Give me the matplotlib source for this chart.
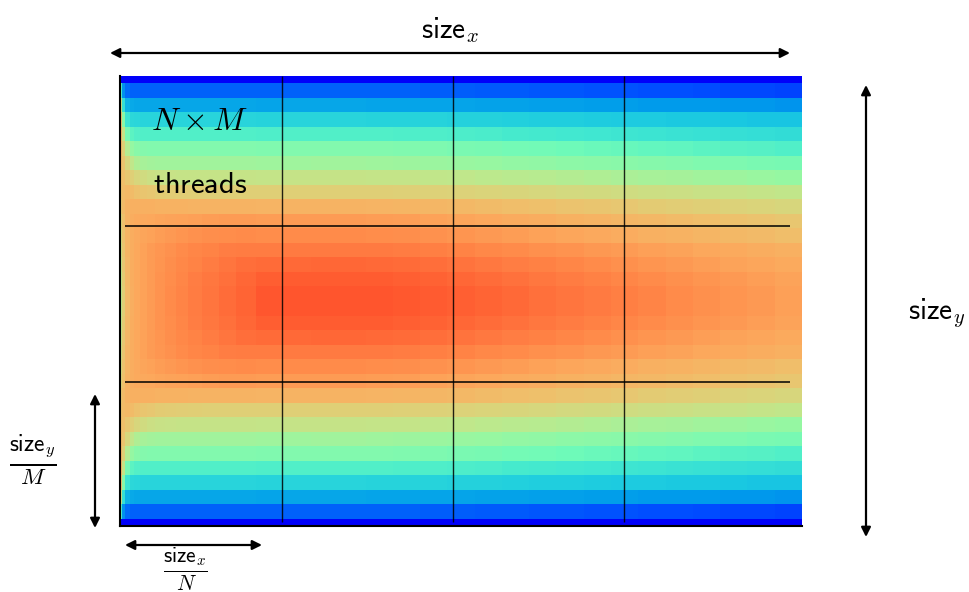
import numpy as np
import matplotlib
matplotlib.use("Agg")
from matplotlib import pyplot as plt
from matplotlib.colors import LinearSegmentedColormap

plt.rcParams['mathtext.fontset'] = 'cm'

#==============DATA==============
# entrance region: column edges (fraction of size_x) and values per row
# row 0 = top wall, only the upper half is listed, the lower half is mirrored
inlet_edges = [0, 0.003, 0.008, 0.014, 0.021, 0.03, 0.04, 0.052, 0.066, 0.082, 0.1, 0.12, 0.145, 0.17, 0.2]
row00 = [0.0, 0.0, 0.0, 0.0, 0.0, 0.0, 0.0, 0.0, 0.0, 0.0, 0.0, 0.0, 0.0, 0.0]
row01 = [0.35, 0.15, 0.11, 0.1, 0.1, 0.1, 0.1, 0.1, 0.1, 0.1, 0.1, 0.1, 0.1, 0.1]
row02 = [0.6, 0.3, 0.2, 0.185, 0.18, 0.18, 0.18, 0.18, 0.18, 0.18, 0.18, 0.18, 0.18, 0.18]
row03 = [0.72, 0.45, 0.31, 0.28, 0.275, 0.27, 0.27, 0.27, 0.27, 0.27, 0.27, 0.27, 0.27, 0.27]
row04 = [0.75, 0.58, 0.42, 0.37, 0.355, 0.35, 0.35, 0.35, 0.35, 0.35, 0.35, 0.35, 0.35, 0.35]
row05 = [0.75, 0.66, 0.54, 0.48, 0.455, 0.445, 0.44, 0.44, 0.44, 0.44, 0.44, 0.44, 0.44, 0.44]
row06 = [0.74, 0.7, 0.63, 0.57, 0.53, 0.515, 0.505, 0.5, 0.5, 0.5, 0.5, 0.5, 0.5, 0.5]
row07 = [0.72, 0.72, 0.69, 0.66, 0.63, 0.61, 0.595, 0.588, 0.584, 0.582, 0.58, 0.58, 0.58, 0.58]
row08 = [0.7, 0.73, 0.74, 0.73, 0.71, 0.695, 0.685, 0.675, 0.67, 0.665, 0.662, 0.66, 0.66, 0.66]
row09 = [0.68, 0.73, 0.76, 0.77, 0.77, 0.77, 0.77, 0.765, 0.765, 0.762, 0.76, 0.76, 0.76, 0.76]
row10 = [0.64, 0.71, 0.76, 0.78, 0.79, 0.795, 0.8, 0.805, 0.81, 0.815, 0.82, 0.825, 0.83, 0.83]
row11 = [0.62, 0.7, 0.75, 0.78, 0.795, 0.805, 0.815, 0.825, 0.835, 0.845, 0.852, 0.86, 0.865, 0.87]
row12 = [0.6, 0.69, 0.75, 0.78, 0.8, 0.815, 0.83, 0.84, 0.855, 0.87, 0.88, 0.89, 0.9, 0.905]
row13 = [0.58, 0.68, 0.745, 0.78, 0.8, 0.815, 0.83, 0.845, 0.86, 0.875, 0.89, 0.905, 0.92, 0.935]
row14 = [0.57, 0.67, 0.74, 0.78, 0.8, 0.815, 0.83, 0.85, 0.865, 0.88, 0.9, 0.915, 0.93, 0.95]
row15 = [0.56, 0.66, 0.735, 0.775, 0.8, 0.815, 0.83, 0.85, 0.87, 0.885, 0.905, 0.92, 0.94, 0.96]

# downstream region: row values at the hot spot and at the outlet
peak_rows = [0.0, 0.1, 0.18, 0.27, 0.35, 0.44, 0.5, 0.58, 0.66, 0.76, 0.83, 0.87, 0.91, 0.95, 0.98, 1.0]
far_rows = [0.0, 0.07, 0.155, 0.235, 0.29, 0.35, 0.42, 0.48, 0.57, 0.63, 0.69, 0.72, 0.77, 0.79, 0.81, 0.82]
# share of the hot spot left in each downstream column (0.2 .. 1.0, step 0.04)
down_edges = [0.2, 0.24, 0.28, 0.32, 0.36, 0.4, 0.44, 0.48, 0.52, 0.56, 0.6,
              0.64, 0.68, 0.72, 0.76, 0.8, 0.84, 0.88, 0.92, 0.96, 1.0]
down_share = [0.96, 0.99, 1.0, 1.0, 0.98, 0.95, 0.9, 0.84, 0.77, 0.7,
              0.63, 0.56, 0.49, 0.42, 0.35, 0.28, 0.21, 0.14, 0.07, 0.0]

# colour scale (value -> rgb)
cmap_pos = [0.0, 0.08, 0.16, 0.24, 0.32, 0.40, 0.48, 0.56, 0.64, 0.72, 0.80, 0.88, 0.96, 1.0]
cmap_rgb = [(0, 0, 250), (0, 80, 255), (0, 155, 235), (25, 200, 225), (65, 232, 208),
            (110, 250, 185), (150, 247, 162), (190, 232, 140), (218, 212, 122),
            (240, 190, 106), (252, 168, 92), (255, 135, 72), (255, 100, 52), (255, 85, 45)]

# thread block grid (N x M)
vlines_x = [0.2371, 0.4883, 0.7395]
hlines_y = [10.33, 21.08]

#==============FIELD==============
inlet = np.array([row00, row01, row02, row03, row04, row05, row06, row07,
                  row08, row09, row10, row11, row12, row13, row14, row15])
peak = np.array(peak_rows)[:, None]
far = np.array(far_rows)[:, None]
down = far + np.array(down_share)[None, :] * (peak - far)
upper = np.hstack([inlet, down])
field = np.vstack([upper, upper[::-1]])
x_edges = inlet_edges + down_edges[1:]
n_rows = field.shape[0]
y_edges = [0] + [i + 0.5 for i in range(n_rows - 1)] + [n_rows - 1]

cmap = LinearSegmentedColormap.from_list(
    "field", list(zip(cmap_pos, [tuple(c / 255 for c in rgb) for rgb in cmap_rgb])))

fig = plt.figure(figsize=(9.69, 5.92), dpi=100)
ax = fig.add_axes([120 / 969, 66 / 592, 682 / 969, 450 / 592])
ax.pcolormesh(x_edges, y_edges, field, cmap=cmap, vmin=0, vmax=1, shading='flat')
ax.set_xlim(0, 1)
ax.set_ylim(n_rows - 1, 0)
ax.set_xticks([])
ax.set_yticks([])
ax.spines['top'].set_visible(False)
ax.spines['right'].set_visible(False)
ax.spines['left'].set_linewidth(1.5)
ax.spines['bottom'].set_linewidth(1.5)

for xv in vlines_x:
    ax.vlines(xv, 0, 30.72, color='black', lw=1, alpha=0.85)
for yv in hlines_y:
    ax.hlines(yv, 0.0073, 0.982, color='black', lw=1.1)

ax.text(0.116, 3.15, r'$N \times M$', fontsize=23, ha='center', va='center')
ax.text(0.118, 7.45, r'$\mathsf{threads}$', fontsize=22, ha='center', va='center')

#==============ARROWS==============
def px(x, y):
    return (x / 969, 1 - y / 592)

arrow = dict(arrowstyle='<|-|>', color='black', lw=1.6, mutation_scale=14,
             shrinkA=0, shrinkB=0)
fig.add_artist(matplotlib.patches.FancyArrowPatch(px(110, 53), px(790, 53),
               transform=fig.transFigure, **arrow))
fig.add_artist(matplotlib.patches.FancyArrowPatch(px(866, 85), px(866, 537),
               transform=fig.transFigure, **arrow))
fig.add_artist(matplotlib.patches.FancyArrowPatch(px(95, 394), px(95, 528),
               transform=fig.transFigure, **arrow))
fig.add_artist(matplotlib.patches.FancyArrowPatch(px(125, 545), px(262, 545),
               transform=fig.transFigure, **arrow))

fig.text(*px(450, 30), r'$\mathsf{size}_x$', fontsize=21, ha='center', va='center')
fig.text(*px(937, 313), r'$\mathsf{size}_y$', fontsize=21, ha='center', va='center')
fig.text(*px(33, 460), r'$\frac{\mathsf{size}_y}{M}$', fontsize=24, ha='center', va='center')
fig.text(*px(185, 569), r'$\frac{\mathsf{size}_x}{N}$', fontsize=22, ha='center', va='center')

plt.savefig("out.png", dpi=100)
